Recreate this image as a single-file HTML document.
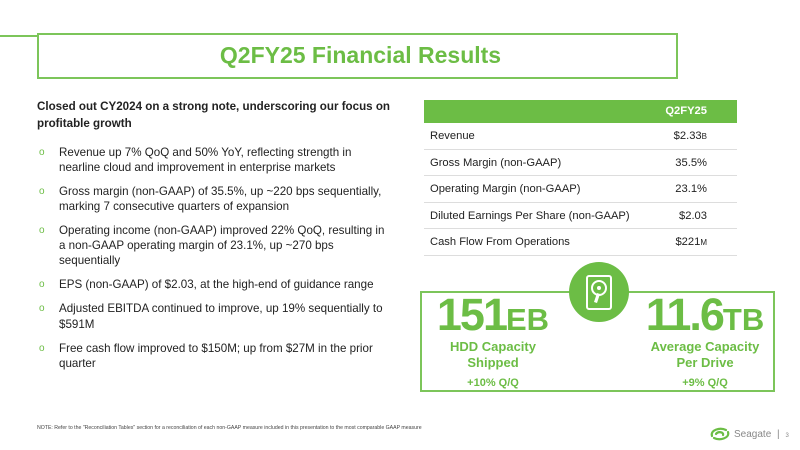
<!DOCTYPE html><html><head><style>
*{margin:0;padding:0;box-sizing:border-box}
body{width:800px;height:450px;background:#fff;position:relative;overflow:hidden;font-family:"Liberation Sans",Arial,sans-serif;color:#222}
.a{position:absolute}
.g{color:#6cbd45}
ul{list-style:none}
li{position:relative;padding-left:22px;font-size:11.6px;line-height:15.2px;margin-bottom:8.8px;color:#222}
li:before{content:"o";position:absolute;left:2px;top:0;color:#6cbd45;font-size:10px}
.row{position:absolute;left:424px;width:313px;height:26.5px;border-bottom:1px solid #ddd;font-size:11.2px;line-height:26px}
.row span{position:absolute;right:30px}
.row b{font-weight:normal;position:absolute;left:6px}
</style></head><body>
<div class="a" style="left:0;top:35px;width:38px;height:2px;background:#7cc55a"></div>
<div class="a" style="left:37px;top:33px;width:641px;height:46px;border:2px solid #7cc55a"></div>
<div class="a g" style="left:40px;top:33px;width:641px;height:46px;text-align:center;font-weight:bold;font-size:23px;line-height:44px">Q2FY25 Financial Results</div>
<div class="a" style="left:37px;top:98px;width:370px;font-weight:bold;font-size:11.6px;line-height:17px">Closed out CY2024 on a strong note, underscoring our focus on profitable growth</div>
<ul class="a" style="left:37px;top:144.5px;width:353px">
<li>Revenue up 7% QoQ and 50% YoY, reflecting strength in nearline cloud and improvement in enterprise markets</li>
<li>Gross margin (non-GAAP) of 35.5%, up ~220 bps sequentially, marking 7 consecutive quarters of expansion</li>
<li>Operating income (non-GAAP) improved 22% QoQ, resulting in a non-GAAP operating margin of 23.1%, up ~270 bps sequentially</li>
<li>EPS (non-GAAP) of $2.03, at the high-end of guidance range</li>
<li>Adjusted EBITDA continued to improve, up 19% sequentially to $591M</li>
<li>Free cash flow improved to $150M; up from $27M in the prior quarter</li>
</ul>
<div class="a" style="left:424px;top:100px;width:313px;height:23px;background:#6cbd45;color:#fff;font-weight:bold;font-size:11.2px;line-height:23px"><span style="position:absolute;right:30px">Q2FY25</span></div>
<div class="row" style="top:123px"><b>Revenue</b><span>$2.33<small style="font-size:8px">B</small></span></div>
<div class="row" style="top:149.5px"><b>Gross Margin (non-GAAP)</b><span>35.5%</span></div>
<div class="row" style="top:176px"><b>Operating Margin (non-GAAP)</b><span>23.1%</span></div>
<div class="row" style="top:202.5px"><b>Diluted Earnings Per Share (non-GAAP)</b><span>$2.03</span></div>
<div class="row" style="top:229px"><b>Cash Flow From Operations</b><span>$221<small style="font-size:8px">M</small></span></div>
<div class="a" style="left:420px;top:291px;width:355px;height:101px;border:2px solid #7cc55a"></div>
<div class="a" style="left:569px;top:262px;width:60px;height:60px;border-radius:50%;background:#6cbd45"></div>
<svg class="a" style="left:584px;top:274px" width="30" height="37" viewBox="0 0 30 37"><rect x="3" y="2" width="24" height="33" rx="2" fill="none" stroke="#fff" stroke-width="2"/><circle cx="15" cy="14" r="7" fill="none" stroke="#fff" stroke-width="2"/><circle cx="15" cy="14" r="2" fill="#fff"/><path d="M13 19 L10 28 L13 29 L16 20Z" fill="#fff"/></svg>
<div class="a g" style="left:393px;top:289px;width:200px;text-align:center;font-weight:bold;white-space:nowrap"><span style="font-size:45px;letter-spacing:-2px">151</span><span style="font-size:31px">EB</span></div>
<div class="a g" style="left:413px;top:339px;width:160px;text-align:center;font-weight:bold;font-size:13px;line-height:16px">HDD Capacity<br>Shipped<div style="font-size:11px;margin-top:4px">+10% Q/Q</div></div>
<div class="a g" style="left:605px;top:289px;width:200px;text-align:center;font-weight:bold;white-space:nowrap"><span style="font-size:45px;letter-spacing:-2px">11.6</span><span style="font-size:31px">TB</span></div>
<div class="a g" style="left:625px;top:339px;width:160px;text-align:center;font-weight:bold;font-size:13px;line-height:16px">Average Capacity<br>Per Drive<div style="font-size:11px;margin-top:4px">+9% Q/Q</div></div>
<div class="a" style="left:37px;top:425px;font-size:5.2px;color:#444">NOTE: Refer to the "Reconciliation Tables" section for a reconciliation of each non-GAAP measure included in this presentation to the most comparable GAAP measure</div>
<svg class="a" style="left:708px;top:426px" width="24" height="16" viewBox="0 0 24 16"><path d="M4 10 C2 4 12 1 18 4 M20 6 C22 12 12 15 6 12 M8 8 C10 5 16 6 15 9" fill="none" stroke="#6cbd45" stroke-width="2.2" stroke-linecap="round"/></svg>
<div class="a" style="left:734px;top:429px;font-size:10px;color:#888">Seagate <span style="margin:0 3px">|</span> <span style="font-size:6px">3</span></div>
</body></html>
